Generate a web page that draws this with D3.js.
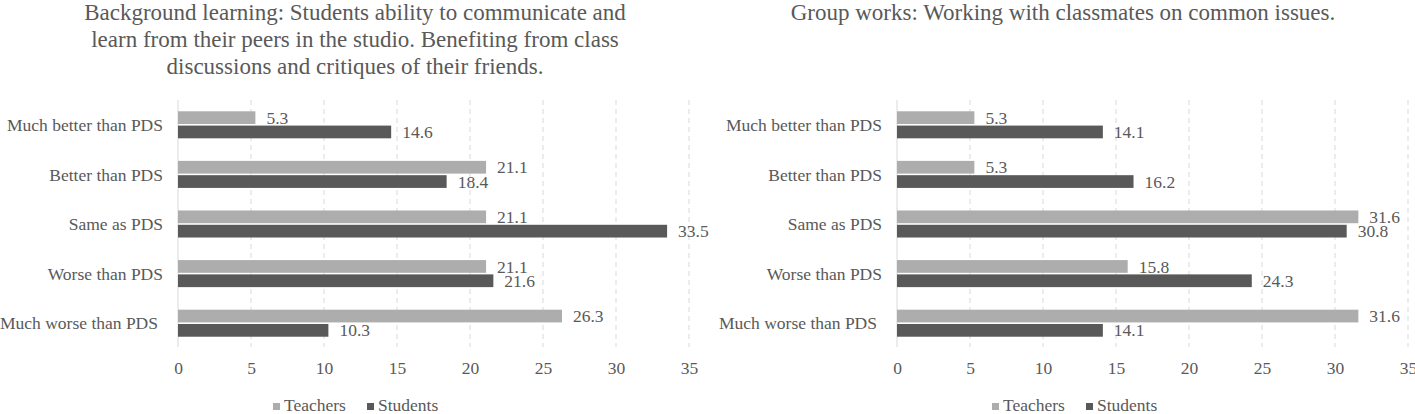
<!DOCTYPE html>
<html>
    <head>
        <meta charset="utf-8">
        <style>
            body { margin: 0; background: #fff; }
            text { font-family: "Liberation Serif", "Times New Roman", serif; fill: #595959; }
        </style>
    </head>
    <body>
        <svg width="1415" height="414"></svg>
        <script src="https://d3js.org/d3.v7.min.js"></script>
        <script>

            // data
            var categories = ["Much better than PDS", "Better than PDS", "Same as PDS", "Worse than PDS", "Much worse than PDS"];
            var seriesNames = ["Teachers", "Students"];
            var ticks = [0, 5, 10, 15, 20, 25, 30, 35];

            var bgTeachers = [5.3, 21.1, 21.1, 21.1, 26.3];
            var bgStudents = [14.6, 18.4, 33.5, 21.6, 10.3];
            var bgTitle = ["Background learning: Students ability to communicate and",
                           "learn from their peers in the studio. Benefiting from class",
                           "discussions and critiques of their friends."];

            var gwTeachers = [5.3, 5.3, 31.6, 15.8, 31.6];
            var gwStudents = [14.1, 16.2, 30.8, 24.3, 14.1];
            var gwTitle = ["Group works: Working with classmates on common issues."];

            var colors = {"Teachers": "#adadad", "Students": "#595959"};

            function translator(x, y){
                return 'translate(' + x + ',' + y + ')';
            }

            function rows(teachers, students){
                return categories.map(function(c, i){
                    return {cat: c, values: [
                        {name: "Teachers", value: teachers[i]},
                        {name: "Students", value: students[i]}
                    ]};
                });
            }

            function drawPanel(svg, left, titleX, title, data){
                var g = svg.append('g').attr('transform', translator(left, 0));
                var width = 511;
                var top = 100, bottom = 348;

                var x = d3.scaleLinear().domain([0, 35]).range([0, width]);
                var y = d3.scaleBand().domain(categories).range([top, bottom])
                    .paddingInner(0.455).paddingOuter(0.2275);
                var y1 = d3.scaleBand().domain(seriesNames).range([0, y.bandwidth()])
                    .paddingInner(0.11);

                // title
                svg.append('g').selectAll('text')
                    .data(title)
                    .enter().append('text')
                    .attr('x', titleX)
                    .attr('y', function(d, i){ return 20 + i * 27; })
                    .attr('text-anchor', 'middle')
                    .style('font-size', '23px')
                    .text(function(d){ return d; });

                // grid
                g.append('g').selectAll('line')
                    .data(ticks.slice(1))
                    .enter().append('line')
                    .attr('x1', x).attr('x2', x)
                    .attr('y1', top).attr('y2', bottom - 1)
                    .attr('stroke', '#d9d9d9')
                    .attr('stroke-dasharray', '5,4');
                g.append('line')
                    .attr('x1', x(0)).attr('x2', x(0))
                    .attr('y1', top).attr('y2', bottom - 1)
                    .attr('stroke', '#d9d9d9');

                // x axis labels
                var axis = d3.axisBottom(x).tickValues(ticks).tickSize(0).tickPadding(0);
                var ax = g.append('g').attr('transform', translator(0, 362)).call(axis);
                ax.select('.domain').remove();
                ax.selectAll('text')
                    .attr('dy', '0.71em')
                    .style('font-size', '17.5px')
                    .style('font-family', '"Liberation Serif", serif')
                    .attr('fill', '#595959');

                // category labels
                g.append('g').selectAll('text')
                    .data(categories)
                    .enter().append('text')
                    .attr('x', function(d, i){ return i === categories.length - 1 ? -20 : -15; })
                    .attr('y', function(d){ return y(d) + y.bandwidth() / 2; })
                    .attr('dy', '0.35em')
                    .attr('text-anchor', 'end')
                    .style('font-size', '17.5px')
                    .text(function(d){ return d; });

                // bars
                var grp = g.append('g').selectAll('g')
                    .data(data)
                    .enter().append('g')
                    .attr('transform', function(d){ return translator(0, y(d.cat)); });

                grp.selectAll('rect')
                    .data(function(d){ return d.values; })
                    .enter().append('rect')
                    .attr('x', x(0))
                    .attr('y', function(d){ return y1(d.name); })
                    .attr('width', function(d){ return x(d.value) - x(0); })
                    .attr('height', y1.bandwidth())
                    .attr('fill', function(d){ return colors[d.name]; });

                grp.selectAll('text')
                    .data(function(d){ return d.values; })
                    .enter().append('text')
                    .attr('x', function(d){ return x(d.value) + 11; })
                    .attr('y', function(d){ return y1(d.name) + y1.bandwidth() / 2; })
                    .attr('dy', '0.35em')
                    .style('font-size', '17.5px')
                    .text(function(d){ return d.value.toFixed(1); });

                // legend
                var lg = g.append('g').attr('transform', translator(-178, 0));
                var lx = [273, 367];
                seriesNames.forEach(function(s, i){
                    lg.append('rect')
                        .attr('x', lx[i]).attr('y', 403)
                        .attr('width', 7).attr('height', 7)
                        .attr('fill', colors[s]);
                    lg.append('text')
                        .attr('x', lx[i] + 11).attr('y', 411)
                        .style('font-size', '17.5px')
                        .text(s);
                });
            }

            var svg = d3.select('svg');
            drawPanel(svg, 178, 355, bgTitle, rows(bgTeachers, bgStudents));
            drawPanel(svg, 897, 1063, gwTitle, rows(gwTeachers, gwStudents));

        </script>
    </body>
</html>
